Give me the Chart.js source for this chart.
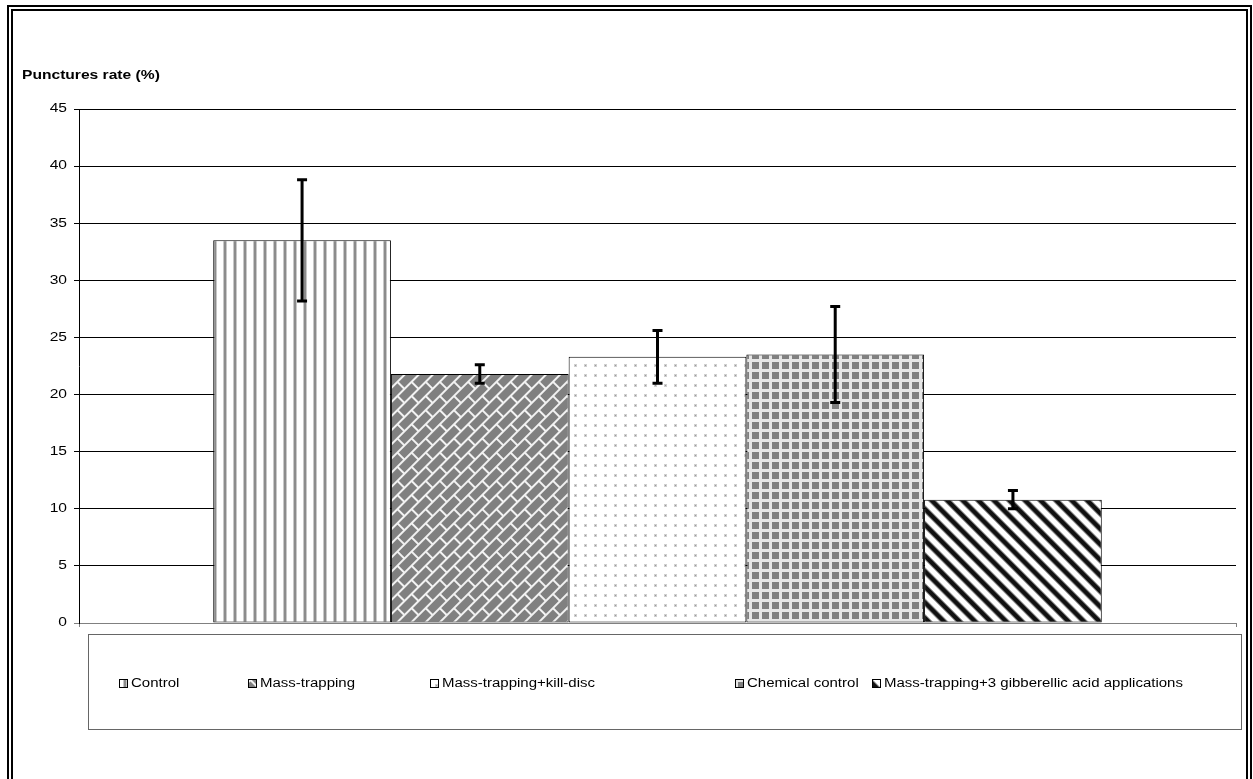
<!DOCTYPE html>
<html>
<head>
<meta charset="utf-8">
<script src="https://cdn.jsdelivr.net/npm/chart.js@4.4.1/dist/chart.umd.min.js"></script>
<style>
  body { margin: 0; background: #fff; font-family: "Liberation Sans", Arial, sans-serif; }
  #wrap { position: relative; width: 1253px; height: 779px; overflow: hidden; }
  #c { position: absolute; left: 0; top: 0; }
  #frame { position: absolute; left: 7px; top: 5px; width: 1233px; height: 820px; border: 6px double #000; pointer-events: none; }
  #legend { position: absolute; left: 88px; top: 634px; width: 1152px; height: 94px; border: 1px solid #666; }
  .item { position: absolute; top: 41px; font-size: 12px; white-space: nowrap; display: flex; align-items: center; }
  .item canvas { border: 1px solid #000; margin-right: 3px; }
  .item span { display: inline-block; transform: scaleX(1.25); transform-origin: left center; }
</style>
</head>
<body>
<div id="wrap">
  <canvas id="c" width="1253" height="779"></canvas>
  <div id="legend"></div>
  <div id="frame"></div>
</div>
<script>
// data
const categories = ['Control', 'Mass-trapping', 'Mass-trapping+kill-disc', 'Chemical control', 'Mass-trapping+3 gibberellic acid applications'];
const values = [33.5, 21.8, 23.3, 23.5, 10.8];
const errors = [5.3, 0.8, 2.3, 4.2, 0.8];
const yTicks = [0, 5, 10, 15, 20, 25, 30, 35, 40, 45];

// legend x positions (page px)
const legendLeft = [119, 248, 430, 735, 872];

// the original picture is stretched sideways, text is widened to match
const stretch = 1.3;

function tile(w, h, draw) {
  const c = document.createElement('canvas');
  c.width = w; c.height = h;
  const g = c.getContext('2d');
  draw(g, w, h);
  return c;
}

const tiles = [
  // vertical stripes
  [tile(10, 1, (g) => {
    g.fillStyle = '#fff'; g.fillRect(0, 0, 10, 1);
    g.fillStyle = '#c8c8c8'; g.fillRect(3, 0, 1, 1); g.fillRect(6, 0, 1, 1);
    g.fillStyle = '#8c8c8c'; g.fillRect(4, 0, 2, 1);
  }), 0],
  // bricks
  [tile(20, 20, (g) => {
    g.fillStyle = '#808080'; g.fillRect(0, 0, 20, 20);
    g.fillStyle = '#f2f2f2';
    g.fillRect(0, 0, 20, 2); g.fillRect(0, 10, 20, 2);
    g.fillRect(0, 0, 2, 10); g.fillRect(10, 10, 2, 10);
  }), -45],
  // dots
  [tile(10, 10, (g) => {
    g.fillStyle = '#fff'; g.fillRect(0, 0, 10, 10);
    g.fillStyle = '#d0d0d0'; g.fillRect(4, 4, 3, 3);
    g.fillStyle = '#999'; g.fillRect(5, 5, 1, 1);
  }), 0],
  // grid
  [tile(10, 10, (g) => {
    g.fillStyle = '#e6e6e6'; g.fillRect(0, 0, 10, 10);
    g.fillStyle = '#808080'; g.fillRect(2, 2, 7, 7);
  }), 0],
  // diagonal stripes
  [tile(1, 11, (g) => {
    g.fillStyle = '#fff'; g.fillRect(0, 0, 1, 11);
    g.fillStyle = '#888'; g.fillRect(0, 0, 1, 1); g.fillRect(0, 5, 1, 1);
    g.fillStyle = '#111'; g.fillRect(0, 1, 1, 4);
  }), 45]
];

function makePattern(ctx, i) {
  const p = ctx.createPattern(tiles[i][0], 'repeat');
  if (tiles[i][1]) p.setTransform(new DOMMatrix().rotate(tiles[i][1]));
  return p;
}

const canvas = document.getElementById('c');
const ctx = canvas.getContext('2d');

const errorBars = {
  id: 'errorBars',
  afterDatasetsDraw(chart) {
    const y = chart.scales.y;
    const c = chart.ctx;
    c.save();
    c.strokeStyle = '#000';
    c.lineWidth = 3;
    chart.data.datasets.forEach((ds, i) => {
      const bar = chart.getDatasetMeta(i).data[0];
      const top = y.getPixelForValue(values[i] + errors[i]);
      const bot = y.getPixelForValue(values[i] - errors[i]);
      c.beginPath();
      c.moveTo(bar.x, top); c.lineTo(bar.x, bot);
      c.moveTo(bar.x - 5, top); c.lineTo(bar.x + 5, top);
      c.moveTo(bar.x - 5, bot); c.lineTo(bar.x + 5, bot);
      c.stroke();
    });
    c.restore();
  }
};

// y tick labels and axis title, widened like the original
const stretchedText = {
  id: 'stretchedText',
  afterDraw(chart) {
    const c = chart.ctx;
    const y = chart.scales.y;
    c.save();
    c.fillStyle = '#000';
    c.textBaseline = 'middle';
    c.font = '12px "Liberation Sans", Arial';
    c.textAlign = 'right';
    y.ticks.forEach((t) => {
      c.save();
      c.translate(y.right - 12, y.getPixelForValue(t.value));
      c.scale(stretch, 1);
      c.fillText(String(t.value), 0, 0);
      c.restore();
    });
    c.font = 'bold 12px "Liberation Sans", Arial';
    c.textAlign = 'left';
    c.translate(22, 76);
    c.scale(stretch, 1);
    c.fillText('Punctures rate (%)', 0, 0);
    c.restore();
  }
};

new Chart(ctx, {
  type: 'bar',
  data: {
    labels: [''],
    datasets: categories.map((name, i) => ({
      label: name,
      data: [values[i]],
      backgroundColor: makePattern(ctx, i),
      borderColor: '#000',
      borderWidth: 1,
      borderSkipped: false
    }))
  },
  options: {
    responsive: false,
    animation: false,
    devicePixelRatio: 1,
    categoryPercentage: 0.768,
    barPercentage: 1,
    layout: { padding: { left: 0, top: 109, right: 17, bottom: 151 } },
    plugins: { legend: { display: false }, tooltip: { enabled: false } },
    scales: {
      x: {
        offset: true,
        ticks: { display: false },
        grid: { drawOnChartArea: false, tickLength: 4, color: '#808080' },
        border: { color: '#808080' },
        afterFit(s) { s.height = 5; }
      },
      y: {
        min: 0,
        max: 45,
        afterBuildTicks(s) { s.ticks = yTicks.map(v => ({ value: v })); },
        ticks: { display: false },
        grid: {
          color: (c) => c.tick && c.tick.value === 0 ? '#808080' : '#000',
          tickLength: 5
        },
        border: { color: '#000' },
        afterFit(s) { s.width = 79; }
      }
    }
  },
  plugins: [errorBars, stretchedText]
});

// legend
const legend = document.getElementById('legend');
categories.forEach((name, i) => {
  const item = document.createElement('div');
  item.className = 'item';
  item.style.left = (legendLeft[i] - 89) + 'px';
  const sw = document.createElement('canvas');
  sw.width = 7; sw.height = 7;
  const g = sw.getContext('2d');
  g.fillStyle = makePattern(g, i);
  g.fillRect(0, 0, 7, 7);
  item.appendChild(sw);
  const t = document.createElement('span');
  t.textContent = name;
  item.appendChild(t);
  legend.appendChild(item);
});
</script>
</body>
</html>
